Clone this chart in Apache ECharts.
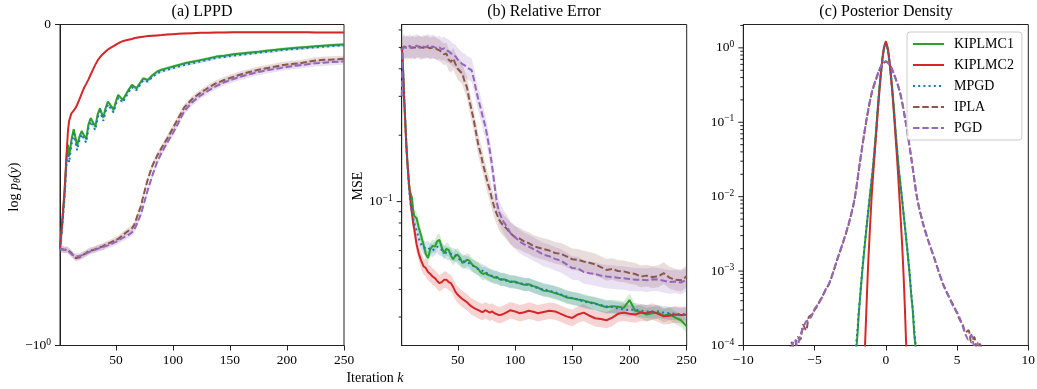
<!DOCTYPE html>
<html>
<head>
<meta charset="utf-8">
<script src="https://cdn.jsdelivr.net/npm/echarts@6/dist/echarts.min.js"></script>
<style>
  html, body { margin: 0; padding: 0; background: #fff; }
  #chart { width: 1037px; height: 389px; }
</style>
</head>
<body>
<div id="chart"></div>
<script>
// ---- data ----
const names = ['KIPLMC1', 'KIPLMC2', 'MPGD', 'IPLA', 'PGD'];

// (a) LPPD, symlog axis (linear between -1 and 0)
const aIter = [1,3,5,7,8,9, 11,13,15,16,18,20, 22,24,26,28,30,32, 34,36,38,39,41,43, 46,48,50,52,54,56,
  60,64,66,68,72,74, 76,78,82,86,90,95, 100,105,110,117,124,131, 138,145,153,160,168,175,
  182,190,197,204,211,218, 225,232,240,250];
const aKIPLMC1 = [-0.70,-0.62,-0.52,-0.40,-0.375,-0.41, -0.36,-0.326,-0.36,-0.378,-0.35,-0.332,
  -0.345,-0.357,-0.31,-0.292,-0.305,-0.318, -0.28,-0.261,-0.28,-0.29,-0.26,-0.24,
  -0.255,-0.266,-0.24,-0.219,-0.227,-0.235, -0.21,-0.188,-0.193,-0.199,-0.178,-0.168,
  -0.170,-0.173,-0.158,-0.147,-0.141,-0.136, -0.131,-0.126,-0.121,-0.116,-0.111,-0.106,
  -0.100,-0.097,-0.093,-0.090,-0.087,-0.085, -0.082,-0.079,-0.076,-0.074,-0.072,-0.070,
  -0.068,-0.066,-0.064,-0.062];
const aKIPLMC2 = [-0.70,-0.61,-0.52,-0.39,-0.33,-0.30, -0.277,-0.268,-0.258,-0.250,-0.233,-0.215,
  -0.198,-0.185,-0.171,-0.155,-0.140,-0.125, -0.112,-0.102,-0.094,-0.091,-0.084,-0.078,
  -0.071,-0.067,-0.063,-0.059,-0.055,-0.052, -0.048,-0.045,-0.043,-0.041,-0.039,-0.038,
  -0.037,-0.036,-0.035,-0.034,-0.033,-0.031, -0.030,-0.029,-0.028,-0.027,-0.026,-0.026,
  -0.025,-0.025,-0.024,-0.024,-0.024,-0.024, -0.024,-0.024,-0.024,-0.024,-0.024,-0.024,
  -0.025,-0.025,-0.025,-0.025];
const aMPGD = [-0.70,-0.63,-0.54,-0.42,-0.40,-0.43, -0.375,-0.34,-0.375,-0.392,-0.362,-0.342,
  -0.357,-0.368,-0.322,-0.302,-0.317,-0.329, -0.29,-0.27,-0.29,-0.30,-0.27,-0.249,
  -0.264,-0.274,-0.249,-0.228,-0.235,-0.243, -0.217,-0.195,-0.200,-0.205,-0.184,-0.174,
  -0.176,-0.178,-0.163,-0.152,-0.146,-0.141, -0.136,-0.131,-0.126,-0.121,-0.115,-0.110,
  -0.104,-0.101,-0.097,-0.094,-0.091,-0.088, -0.085,-0.082,-0.079,-0.077,-0.075,-0.073,
  -0.071,-0.069,-0.067,-0.065];
const aIPLA = [-0.70,-0.700,-0.702,-0.700,-0.702,-0.706, -0.712,-0.722,-0.728,-0.728,-0.725,-0.722,
  -0.716,-0.712,-0.706,-0.703,-0.703,-0.700, -0.696,-0.694,-0.692,-0.692,-0.686,-0.683,
  -0.678,-0.674,-0.670,-0.668,-0.662,-0.656, -0.645,-0.635,-0.625,-0.605,-0.565,-0.535,
  -0.508,-0.482,-0.440,-0.410,-0.385,-0.355, -0.323,-0.290,-0.258,-0.232,-0.213,-0.197,
  -0.183,-0.173,-0.163,-0.155,-0.147,-0.141, -0.136,-0.131,-0.126,-0.123,-0.121,-0.116,
  -0.112,-0.110,-0.109,-0.107];
const aPGD = [-0.70,-0.700,-0.702,-0.703,-0.705,-0.708, -0.715,-0.720,-0.722,-0.722,-0.722,-0.719,
  -0.716,-0.713,-0.710,-0.706,-0.703,-0.701, -0.699,-0.696,-0.694,-0.693,-0.690,-0.688,
  -0.684,-0.680,-0.677,-0.673,-0.669,-0.665, -0.658,-0.648,-0.640,-0.625,-0.590,-0.565,
  -0.540,-0.515,-0.470,-0.430,-0.400,-0.368, -0.338,-0.305,-0.270,-0.242,-0.222,-0.206,
  -0.192,-0.180,-0.170,-0.162,-0.154,-0.148, -0.143,-0.138,-0.134,-0.130,-0.127,-0.124,
  -0.121,-0.119,-0.117,-0.115];

// (b) Relative error (MSE), log axis
const bIter = [1,2,3,4,5,6,7,8,9,10,11,12, 14,16,18,20,22,24,26,28,30,32,34,36,
  38,40,42,44,46,48,50,52,54,56,58,60, 62,64,66,68,70,72,74,76,78,80,82,84,
  86,88,90,93,96, 100,104,108,112,116,120,
  125,130,135,140,145,150,155,160,165,170,175,180,185,190,195,200,205,210,215,220,225,230,235,240,245,250];
const bKIPLMC1 = [0.50,0.42,0.31,0.24,0.185,0.15,0.125,0.112,0.110,0.104,0.092,0.086,
  0.084,0.076,0.070,0.064,0.058,0.0555,0.061,0.063,0.0625,0.066,0.0671,0.062,
  0.0583,0.061,0.0604,0.057,0.0548,0.057,0.0574,0.0555,0.0528,0.0532,0.0545,0.0540,
  0.0523,0.0510,0.0505,0.0495,0.0478,0.0470,0.0474,0.0466,0.0463,0.0458,0.0452,0.0456,
  0.0447,0.0442,0.0445,0.0440,0.0432, 0.0434,0.0426,0.0420,0.0422,0.0414,0.0408,
  0.0395,0.0392,0.0385,0.0378,0.0368,0.0365,0.0360,0.0356,0.0350,0.0346,0.0338,0.0332,0.0336,
  0.0334,0.0330,0.0358,0.0320,0.0316,0.0308,0.0312,0.0314,0.0304,0.0310,0.0298,0.0290,0.0272];
const bKIPLMC2 = [0.50,0.42,0.30,0.234,0.18,0.15,0.13,0.11,0.097,0.088,0.080,0.075,
  0.064,0.058,0.054,0.051,0.050,0.048,0.047,0.0458,0.045,0.0437,0.0427,0.0432,
  0.0442,0.0443,0.0432,0.0427,0.041,0.039,0.0378,0.037,0.0362,0.0356,0.035,0.0342,
  0.0335,0.033,0.0326,0.0322,0.0318,0.0316,0.0322,0.0318,0.0314,0.0318,0.0312,0.0309,
  0.0306,0.0307,0.0310,0.0316,0.0322, 0.0318,0.0312,0.0315,0.0320,0.0317,0.0312,
  0.0316,0.0320,0.0318,0.0310,0.0302,0.0297,0.0308,0.0314,0.0304,0.0296,0.0294,0.0290,0.0298,
  0.0310,0.0314,0.0310,0.0308,0.0314,0.0312,0.0318,0.0310,0.0302,0.0304,0.0308,0.0306,0.0307];
const bMPGD = [0.50,0.42,0.31,0.24,0.18,0.148,0.122,0.105,0.096,0.090,0.084,0.080,
  0.074,0.068,0.064,0.062,0.0615,0.062,0.0605,0.060,0.0615,0.0625,0.061,0.0605,
  0.0595,0.0585,0.058,0.058,0.0575,0.057,0.0555,0.0545,0.054,0.0535,0.053,0.0525,
  0.0515,0.051,0.050,0.0495,0.049,0.0485,0.048,0.0472,0.0465,0.046,0.0458,0.0452,
  0.0448,0.0445,0.0442,0.0438,0.0435, 0.043,0.0428,0.0422,0.042,0.0412,0.0405,
  0.040,0.0395,0.0388,0.038,0.0372,0.0365,0.036,0.0352,0.0348,0.0344,0.034,0.0335,0.0332,
  0.0328,0.0325,0.0322,0.0325,0.032,0.0318,0.0316,0.0318,0.0314,0.0312,0.031,0.0308,0.031];
const bIPLA = [0.49,0.50,0.505,0.495,0.50,0.505,0.50,0.495,0.50,0.505,0.50,0.495,
  0.50,0.505,0.50,0.498,0.505,0.50,0.495,0.50,0.498,0.49,0.485,0.475,
  0.465,0.47,0.44,0.43,0.445,0.42,0.40,0.39,0.38,0.35,0.33,0.29,
  0.26,0.234,0.205,0.18,0.165,0.148,0.135,0.122,0.113,0.102,0.094,0.088,
  0.083,0.080,0.078,0.075,0.072, 0.069,0.068,0.066,0.0648,0.063,0.062,
  0.061,0.060,0.0585,0.058,0.0565,0.0548,0.0545,0.0535,0.0528,0.052,0.0505,0.049,0.0495,
  0.0485,0.0483,0.0475,0.047,0.0458,0.0462,0.0455,0.0458,0.0474,0.0452,0.0443,0.0440,0.0458];
const bPGD = [0.30,0.50,0.51,0.50,0.505,0.495,0.50,0.51,0.50,0.495,0.505,0.50,
  0.51,0.50,0.495,0.505,0.50,0.51,0.50,0.505,0.50,0.495,0.50,0.49,
  0.495,0.485,0.48,0.47,0.46,0.455,0.44,0.43,0.42,0.415,0.405,0.40,
  0.395,0.36,0.32,0.29,0.265,0.24,0.22,0.195,0.17,0.145,0.12,0.10,
  0.09,0.085,0.081,0.077,0.072, 0.069,0.066,0.064,0.0625,0.061,0.0595,
  0.0574,0.0565,0.055,0.054,0.052,0.050,0.0498,0.048,0.0474,0.047,0.0462,0.0458,0.0455,
  0.0452,0.045,0.0446,0.0443,0.0443,0.044,0.0445,0.0443,0.0438,0.0432,0.0434,0.043,0.0443];

// (c) Posterior density, log axis
const cWideX = [-6.8,-6.6,-6.4,-6.2,-6.0,-5.8,-5.6,-5.4,-5.2,-5.0,-4.8,-4.6,-4.4,-4.2,-4.0,
  -3.7,-3.4,-3.0,-2.6,-2.2,-1.8,-1.4,-1.0,-0.6,-0.3, 0,
  0.3,0.6,1.0,1.4,1.8,2.2,2.6,3.0,3.4,3.7,
  4.0,4.2,4.4,4.6,4.8,5.0,5.2,5.4,5.6,5.8,6.0,6.2,6.4,6.6,6.8];
const cIPLA = [0.6e-4,1.1e-4,0.8e-4,1.3e-4,1.2e-4,1.9e-4,1.6e-4,2.4e-4,2.6e-4,3.0e-4,3.4e-4,4.1e-4,4.8e-4,5.7e-4,6.6e-4,
  9.5e-4,1.45e-3,2.4e-3,4.3e-3,9.0e-3,0.030,0.095,0.24,0.42,0.58, 0.65,
  0.58,0.43,0.25,0.10,0.032,9.5e-3,4.4e-3,2.5e-3,1.5e-3,1.0e-3,
  6.8e-4,5.6e-4,4.6e-4,3.9e-4,3.3e-4,2.7e-4,2.2e-4,1.9e-4,1.5e-4,1.6e-4,1.1e-4,1.3e-4,0.9e-4,1.05e-4,0.7e-4];
const cPGD = [0.7e-4,0.9e-4,1.2e-4,1.0e-4,1.4e-4,1.7e-4,2.1e-4,2.2e-4,2.5e-4,3.1e-4,3.5e-4,4.0e-4,4.7e-4,5.8e-4,6.7e-4,
  9.6e-4,1.45e-3,2.45e-3,4.4e-3,9.2e-3,0.031,0.096,0.245,0.43,0.585, 0.66,
  0.585,0.43,0.25,0.10,0.032,9.6e-3,4.5e-3,2.5e-3,1.5e-3,1.0e-3,
  6.9e-4,5.5e-4,4.7e-4,3.8e-4,3.2e-4,2.8e-4,2.3e-4,1.8e-4,1.4e-4,1.2e-4,1.4e-4,1.0e-4,1.1e-4,0.8e-4,0.6e-4];
const cNarrowX = [-2.2,-2.1,-2.0,-1.9,-1.8,-1.65,-1.5,-1.3,-1.1,-0.9,-0.7,-0.5,-0.3,-0.15,0,
  0.15,0.3,0.5,0.7,0.9,1.1,1.3,1.5,1.65,1.8,1.9,2.0,2.1,2.2];
const cKIPLMC1 = [0.5e-4,0.8e-4,1.3e-4,2.6e-4,4.5e-4,1.0e-3,2.0e-3,4.8e-3,0.011,0.025,0.07,0.22,0.55,0.92,1.15,
  0.92,0.55,0.22,0.07,0.025,0.011,4.7e-3,2.0e-3,1.0e-3,4.5e-4,2.8e-4,1.4e-4,0.9e-4,0.5e-4];
const cMPGD = [0.6e-4,1.0e-4,1.5e-4,2.8e-4,4.7e-4,1.05e-3,2.1e-3,4.9e-3,0.011,0.025,0.068,0.215,0.54,0.9,1.12,
  0.9,0.54,0.215,0.068,0.025,0.011,4.8e-3,2.05e-3,1.05e-3,4.7e-4,3.0e-4,1.6e-4,1.0e-4,0.6e-4];
const cRedX = [-1.55,-1.45,-1.35,-1.25,-1.15,-1.0,-0.85,-0.7,-0.5,-0.3,-0.15,0,
  0.15,0.3,0.5,0.7,0.85,1.0,1.15,1.25,1.35,1.45,1.55];
const cKIPLMC2 = [0.35e-4,1.1e-4,3.5e-4,1.1e-3,2.7e-3,9.5e-3,0.025,0.06,0.2,0.55,0.95,1.22,
  0.95,0.55,0.2,0.058,0.022,7e-3,2.2e-3,8.5e-4,2.8e-4,0.8e-4,0.3e-4];

// spread of the shaded bands (a: absolute, b: multiplicative)
const aBand = { KIPLMC1: 0.005, KIPLMC2: 0.003, MPGD: 0.005, IPLA: 0.01, PGD: 0.01 };
const bBand = { KIPLMC1: 1.07, KIPLMC2: 1.09, MPGD: 1.07, IPLA: 1.12, PGD: 1.13 };

// axis ticks of the log panels
const bMajorTicks = [0.1];
const bMinorTicks = [0.03,0.04,0.05,0.06,0.07,0.08,0.09,0.2,0.3,0.4,0.5,0.6];
const cMajorTicks = [1e-4,1e-3,1e-2,1e-1,1];
const cMinorTicks = [];
[1e-4,1e-3,1e-2,1e-1,1].forEach(d => { for (let m = 2; m <= 9; m++) if (d * m <= 2.06) cMinorTicks.push(d * m); });

// ---- styles ----
const SERIF = '"Liberation Serif", "DejaVu Serif", serif';
const COLORS = { KIPLMC1: '#2ca02c', KIPLMC2: '#d62728', MPGD: '#1f77b4', IPLA: '#8c564b', PGD: '#9467bd' };
const DASH = { KIPLMC1: 'solid', KIPLMC2: 'solid', MPGD: [2, 3.2], IPLA: [6.5, 2.8], PGD: [6.5, 2.8] };
const AXIS_COLOR = '#222';

const chk = (xs, ys, n) => { if (xs.length !== ys.length) throw new Error(n + ' length ' + ys.length + ' vs ' + xs.length); };

function lineSeries(name, g, xs, ys, extra) {
  chk(xs, ys, name + g);
  return Object.assign({
    name: name, type: 'line', xAxisIndex: g, yAxisIndex: g,
    data: xs.map((x, i) => [x, ys[i]]),
    symbol: 'none', showSymbol: false, clip: true, z: 3,
    lineStyle: { color: COLORS[name], width: 2, type: DASH[name] },
    itemStyle: { color: COLORS[name] },
    emphasis: { disabled: true }
  }, extra || {});
}

function bandSeries(name, g, xs, ys, spread, isLog) {
  const up = xs.map((x, i) => [x, isLog ? ys[i] * spread : ys[i] + spread]);
  const dn = xs.map((x, i) => [x, isLog ? ys[i] / spread : ys[i] - spread]);
  return {
    type: 'custom', xAxisIndex: g, yAxisIndex: g, silent: true, clip: true, z: 2,
    data: up,
    renderItem: function (params, api) {
      if (params.dataIndex !== 0) return null;
      const pts = up.map(p => api.coord(p)).concat(dn.slice().reverse().map(p => api.coord(p)));
      return { type: 'polygon', shape: { points: pts }, style: { fill: COLORS[name], opacity: 0.2 } };
    }
  };
}

function tickSeries(g, xAt, values, len) {
  return {
    type: 'custom', xAxisIndex: g, yAxisIndex: g, silent: true, clip: false, z: 6,
    data: values.map(v => [xAt, v]),
    renderItem: function (params, api) {
      const p = api.coord([api.value(0), api.value(1)]);
      return { type: 'line', shape: { x1: p[0] - len, y1: p[1], x2: p[0], y2: p[1] },
        style: { stroke: AXIS_COLOR, lineWidth: 1 } };
    }
  };
}

const labelRich = {
  b: { fontFamily: SERIF, fontSize: 13.5, color: '#000' },
  s: { fontFamily: SERIF, fontSize: 9.5, color: '#000', padding: [0, 0, 7, 0] }
};
function decadeLabel(v) {
  const l = Math.log10(v), e = Math.round(l);
  if (Math.abs(l - e) > 1e-6) return '';
  return '{b|10}{s|' + (e < 0 ? '\u2212' + (-e) : e) + '}';
}

const axisBase = {
  axisLine: { onZero: false, lineStyle: { color: AXIS_COLOR, width: 1 } },
  splitLine: { show: false },
  axisLabel: { fontFamily: SERIF, fontSize: 13.5, color: '#000', margin: 8 }
};
function axis(cfg) {
  const a = JSON.parse(JSON.stringify(axisBase));
  Object.keys(cfg).forEach(k => {
    if (typeof cfg[k] === 'object' && !Array.isArray(cfg[k]) && a[k]) Object.assign(a[k], cfg[k]);
    else a[k] = cfg[k];
  });
  return a;
}
const iterTicks = [50, 100, 150, 200, 250];

const grids = [
  { left: 60, top: 24.5, width: 284, height: 321 },
  { left: 401.7, top: 24.5, width: 285, height: 321 },
  { left: 743.3, top: 24.5, width: 285, height: 321 }
].map(g => Object.assign(g, { show: true, borderColor: AXIS_COLOR, borderWidth: 1, containLabel: false, outerBoundsMode: 'none' }));

const xAxes = [
  axis({ gridIndex: 0, type: 'value', min: 1, max: 250,
    axisTick: { customValues: iterTicks, length: 5, lineStyle: { color: AXIS_COLOR } },
    axisLabel: { customValues: iterTicks } }),
  axis({ gridIndex: 1, type: 'value', min: 1, max: 250,
    axisTick: { customValues: iterTicks, length: 5, lineStyle: { color: AXIS_COLOR } },
    axisLabel: { customValues: iterTicks } }),
  axis({ gridIndex: 2, type: 'value', min: -10, max: 10, interval: 5,
    axisTick: { length: 5, lineStyle: { color: AXIS_COLOR } },
    axisLabel: { formatter: v => String(v).replace('-', '\u2212') } })
];
const yAxes = [
  axis({ gridIndex: 0, type: 'value', min: -1, max: 0,
    axisTick: { customValues: [-1, 0], length: 5, lineStyle: { color: AXIS_COLOR } },
    axisLabel: { customValues: [-1, 0], margin: 9, rich: labelRich,
      formatter: v => v === 0 ? '{b|0}' : '{b|\u221210}{s|0}' } }),
  axis({ gridIndex: 1, type: 'log', logBase: 10, min: 0.02228, max: 0.635,
    axisTick: { show: false },
    axisLabel: { margin: 9, rich: labelRich, formatter: decadeLabel } }),
  axis({ gridIndex: 2, type: 'log', logBase: 10, min: 1e-4, max: 2.06,
    axisTick: { show: false },
    axisLabel: { margin: 9, rich: labelRich, formatter: decadeLabel } })
];

const aData = { KIPLMC1: aKIPLMC1, KIPLMC2: aKIPLMC2, MPGD: aMPGD, IPLA: aIPLA, PGD: aPGD };
const bData = { KIPLMC1: bKIPLMC1, KIPLMC2: bKIPLMC2, MPGD: bMPGD, IPLA: bIPLA, PGD: bPGD };

const series = [];
names.forEach(n => series.push(bandSeries(n, 0, aIter, aData[n], aBand[n], false)));
names.forEach(n => series.push(bandSeries(n, 1, bIter, bData[n], bBand[n], true)));
names.forEach(n => series.push(lineSeries(n, 0, aIter, aData[n])));
names.forEach(n => series.push(lineSeries(n, 1, bIter, bData[n])));
series.push(lineSeries('KIPLMC1', 2, cNarrowX, cKIPLMC1, { smooth: 0.3 }));
series.push(lineSeries('KIPLMC2', 2, cRedX, cKIPLMC2, { smooth: 0.3 }));
series.push(lineSeries('MPGD', 2, cNarrowX, cMPGD, { smooth: 0.3 }));
series.push(lineSeries('IPLA', 2, cWideX, cIPLA, { smooth: 0.3 }));
series.push(lineSeries('PGD', 2, cWideX, cPGD, { smooth: 0.3 }));
series.push(tickSeries(1, 1, bMajorTicks, 5));
series.push(tickSeries(1, 1, bMinorTicks, 3));
series.push(tickSeries(2, -10, cMajorTicks, 5));
series.push(tickSeries(2, -10, cMinorTicks, 3));

const textEl = (x, y, text, rich, rotation) => ({
  type: 'text', x: x, y: y, rotation: rotation || 0, silent: true,
  style: { text: text, rich: rich, align: 'center', verticalAlign: 'middle', fill: '#000',
    font: '14px ' + SERIF }
});
const r14 = { fontFamily: SERIF, fontSize: 14, color: '#000' };
const i14 = { fontFamily: SERIF, fontSize: 14, color: '#000', fontStyle: 'italic' };

const chart = echarts.init(document.getElementById('chart'), null, { renderer: 'canvas' });
chart.setOption({
  animation: false,
  backgroundColor: '#fff',
  textStyle: { fontFamily: SERIF },
  grid: grids,
  xAxis: xAxes,
  yAxis: yAxes,
  legend: {
    data: names, orient: 'vertical', left: 907, top: 32,
    itemWidth: 31, itemHeight: 14, itemGap: 7, padding: [5, 8, 5, 5],
    backgroundColor: 'rgba(255,255,255,0.8)', borderColor: '#ccc', borderWidth: 1, borderRadius: 3,
    selectedMode: false,
    itemStyle: { opacity: 0 },
    textStyle: { fontFamily: SERIF, fontSize: 14, color: '#000', padding: [0, 0, 0, 5] }
  },
  graphic: [
    textEl(202, 12, '{t|(a) LPPD}', { t: { fontFamily: SERIF, fontSize: 16, color: '#000' } }),
    textEl(544, 12, '{t|(b) Relative Error}', { t: { fontFamily: SERIF, fontSize: 16, color: '#000' } }),
    textEl(886, 12, '{t|(c) Posterior Density}', { t: { fontFamily: SERIF, fontSize: 16, color: '#000' } }),
    textEl(14, 187, '{r|log }{i|p}{sub|\u03b8}{r|(}{i|y}{r|)}', {
      r: r14, i: i14,
      sub: { fontFamily: SERIF, fontSize: 10, color: '#000', fontStyle: 'italic', padding: [7, 0, 0, 0] }
    }, Math.PI / 2),
    textEl(358, 186, '{r|MSE}', { r: r14 }, Math.PI / 2),
    textEl(375, 378, '{r|Iteration }{i|k}', { r: r14, i: i14 })
  ],
  series: series
});
</script>
</body>
</html>
